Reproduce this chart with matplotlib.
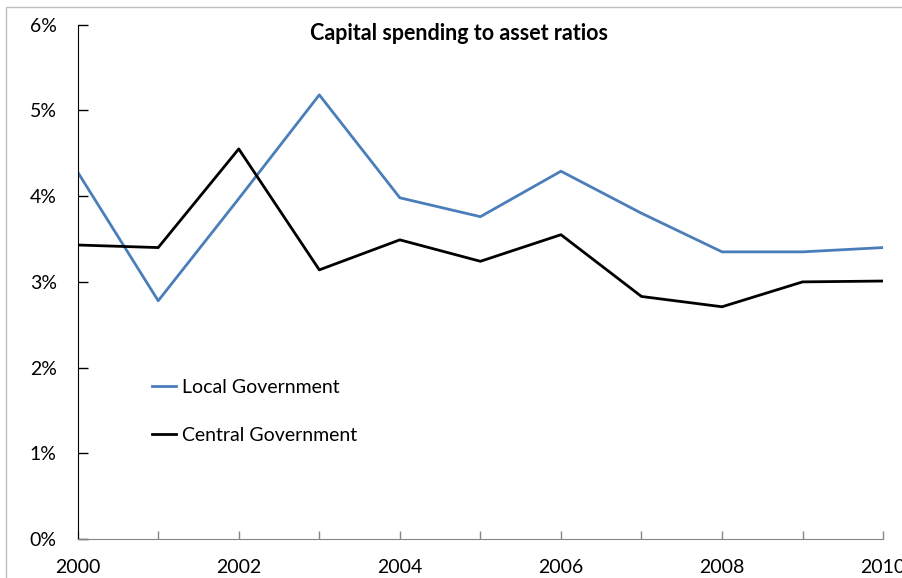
import matplotlib.pyplot as plt
from matplotlib.patches import Rectangle
from matplotlib.ticker import FuncFormatter, MultipleLocator

years = [2000, 2001, 2002, 2003, 2004, 2005, 2006, 2007, 2008, 2009, 2010]
local_gov = [4.28, 2.78, 3.97, 5.18, 3.98, 3.76, 4.29, 3.80, 3.35, 3.35, 3.40]
central_gov = [3.43, 3.40, 4.55, 3.14, 3.49, 3.24, 3.55, 2.83, 2.71, 3.00, 3.01]

plt.rcParams['font.family'] = ['Lato', 'DejaVu Sans']

fig = plt.figure(figsize=(9.03, 5.78), dpi=100)
ax = fig.add_axes([0.086, 0.067, 0.892, 0.8906])

# chart area frame
fig.patches.append(Rectangle((6 / 903, -0.2), 1.2, 1.2 - 7 / 578,
                             transform=fig.transFigure, fill=False,
                             edgecolor='#bfbfbf', linewidth=1.0))

ax.plot(years, local_gov, color='#4a7ebb', linewidth=2.0, label='Local Government')
ax.plot(years, central_gov, color='black', linewidth=2.0, label='Central Government')

ax.set_xlim(2000, 2010)
ax.set_ylim(0, 6)
ax.xaxis.set_major_locator(MultipleLocator(2))
ax.xaxis.set_minor_locator(MultipleLocator(1))
ax.yaxis.set_major_locator(MultipleLocator(1))
ax.yaxis.set_major_formatter(FuncFormatter(lambda v, p: '%d%%' % v))

for s in ['top', 'right']:
    ax.spines[s].set_visible(False)
ax.spines['left'].set_color('black')
ax.spines['bottom'].set_color('#868686')

ax.tick_params(axis='y', direction='in', length=7, width=1, pad=15,
               labelsize=14, colors='black')
ax.tick_params(axis='x', which='both', direction='in', length=6, width=1,
               pad=14, labelsize=14, color='#868686', labelcolor='black')

ax.text(0.473, 0.9835, 'Capital spending to asset ratios', transform=ax.transAxes,
        fontsize=15.5, fontweight='bold', ha='center', va='center')

ax.legend(loc='upper left', bbox_to_anchor=(0.092, 0.312), frameon=False,
          borderpad=0, borderaxespad=0, fontsize=14, handlelength=1.25,
          handletextpad=0.3, labelspacing=1.62)

plt.savefig('out.png', dpi=100)
